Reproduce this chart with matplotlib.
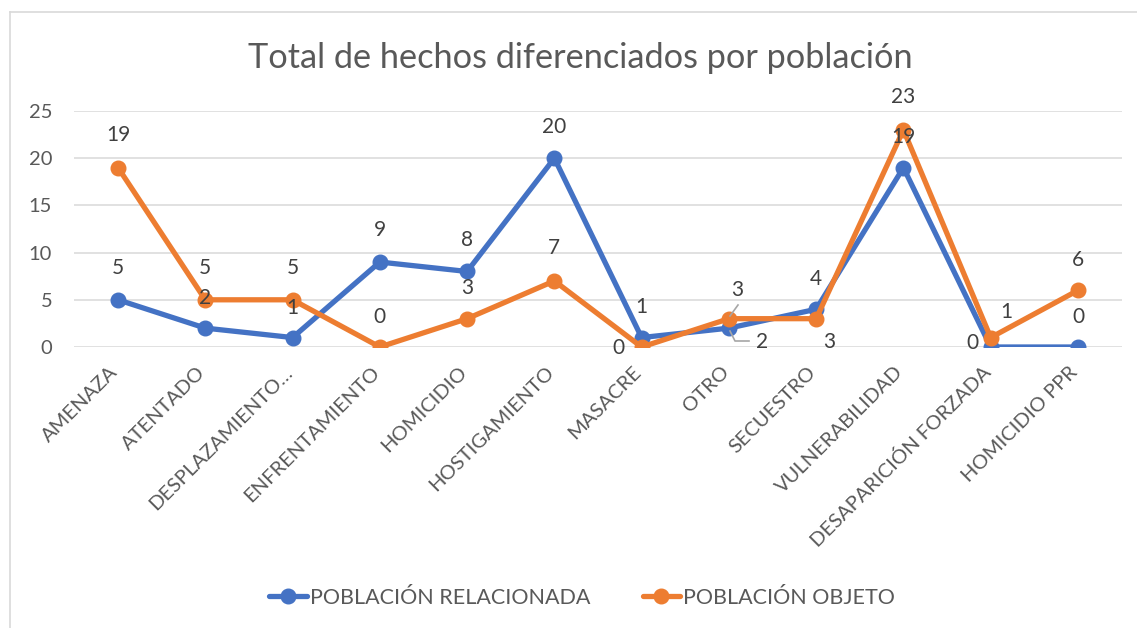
import matplotlib
matplotlib.use("Agg")
import matplotlib.pyplot as plt
from matplotlib.lines import Line2D
from matplotlib.transforms import ScaledTranslation

plt.rcParams['font.family'] = ['Lato', 'DejaVu Sans']

categories = ["AMENAZA", "ATENTADO", "DESPLAZAMIENTO…", "ENFRENTAMIENTO", "HOMICIDIO",
              "HOSTIGAMIENTO", "MASACRE", "OTRO", "SECUESTRO", "VULNERABILIDAD",
              "DESAPARICIÓN FORZADA", "HOMICIDIO PPR"]
relacionada = [5, 2, 1, 9, 8, 20, 1, 2, 4, 19, 0, 0]
objeto = [19, 5, 5, 0, 3, 7, 0, 3, 3, 23, 1, 6]
yticks = [0, 5, 10, 15, 20, 25]

BLUE = "#4472C4"
ORANGE = "#ED7D31"
TXT = "#595959"
GRID = "#D9D9D9"

W, H = 1137, 628
fig = plt.figure(figsize=(W / 100, H / 100), dpi=100)

# chart border (top & left visible)
fig.add_artist(Line2D([10 / W, 1], [1 - 12 / H, 1 - 12 / H], color=GRID, lw=1.2))
fig.add_artist(Line2D([10 / W, 10 / W], [0, 1 - 12 / H], color=GRID, lw=1.2))

left, right = 74.4 / W, 1121.6 / W
bottom, top = 1 - 347 / H, 1 - 111 / H
ax = fig.add_axes([left, bottom, right - left, top - bottom])

x = list(range(len(categories)))
ax.plot(x, relacionada, color=BLUE, lw=3.8, marker='o', ms=10.5, solid_capstyle='round',
        solid_joinstyle='round', zorder=3, label="POBLACIÓN RELACIONADA")
ax.plot(x, objeto, color=ORANGE, lw=3.8, marker='o', ms=10.5, solid_capstyle='round',
        solid_joinstyle='round', zorder=4, label="POBLACIÓN OBJETO")

ax.set_xlim(-0.5, len(categories) - 0.5)
ax.set_ylim(0, 25)
ax.set_yticks(yticks)
ax.grid(axis='y', color=GRID, lw=1.1)
ax.set_axisbelow(True)
for s in ax.spines.values():
    s.set_visible(False)
ax.tick_params(axis='both', length=0, colors=TXT)
ax.tick_params(axis='y', pad=16, labelsize=14.5)
ax.set_xticks(x)
ax.set_xticklabels(categories, rotation=45, ha='right', va='center',
                   rotation_mode='anchor', fontsize=14.5, color=TXT)
ax.tick_params(axis='x', pad=16)
shift = ScaledTranslation(-3 / 100, 0, fig.dpi_scale_trans)
for lbl in ax.get_xticklabels():
    lbl.set_transform(lbl.get_transform() + shift)

# data label offsets in pixels (dx, dy up)
off_rel = [(0, 32), (0, 30), (0, 30), (0, 32), (0, 31), (0, 31), (0, 31), (33, -14),
           (0, 30), (0, 31), (-18, 4), (0, 30)]
off_obj = [(0, 33), (0, 32), (0, 32), (0, 30), (0, 31), (0, 33), (-23, -1), (8, 29),
           (13, -23), (0, 33), (16, 26), (0, 30)]

k = 0.72
for i, v in enumerate(relacionada):
    dx, dy = off_rel[i]
    ax.annotate(str(v), (i, v), xytext=(dx * k, dy * k), textcoords='offset points',
                ha='center', va='center', fontsize=15, color='#404040', zorder=6)
for i, v in enumerate(objeto):
    dx, dy = off_obj[i]
    ax.annotate(str(v), (i, v), xytext=(dx * k, dy * k), textcoords='offset points',
                ha='center', va='center', fontsize=15, color='#404040', zorder=6)

# leader lines for OTRO labels (pixel coords)
def px(xp, yp):
    return (xp / W, 1 - yp / H)

LEAD = "#A6A6A6"
p1, p2 = px(738, 305), px(730, 316)
fig.add_artist(Line2D([p1[0], p2[0]], [p1[1], p2[1]], color=LEAD, lw=1.2, zorder=7))
q1, q2, q3 = px(730, 331), px(735, 341), px(749, 341)
fig.add_artist(Line2D([q1[0], q2[0], q3[0]], [q1[1], q2[1], q3[1]], color=LEAD, lw=1.2, zorder=7))

fig.text(580 / W, 1 - 58 / H, "Total de hechos diferenciados por población",
         ha='center', va='center', fontsize=24.7, color=TXT)

fig.legend(loc='center', bbox_to_anchor=(582 / W, 1 - 598 / H), ncol=2, frameon=False,
           fontsize=15.5, handlelength=1.75, columnspacing=2.45, handletextpad=0.12,
           labelcolor=TXT)

fig.savefig("out.png", dpi=100)
